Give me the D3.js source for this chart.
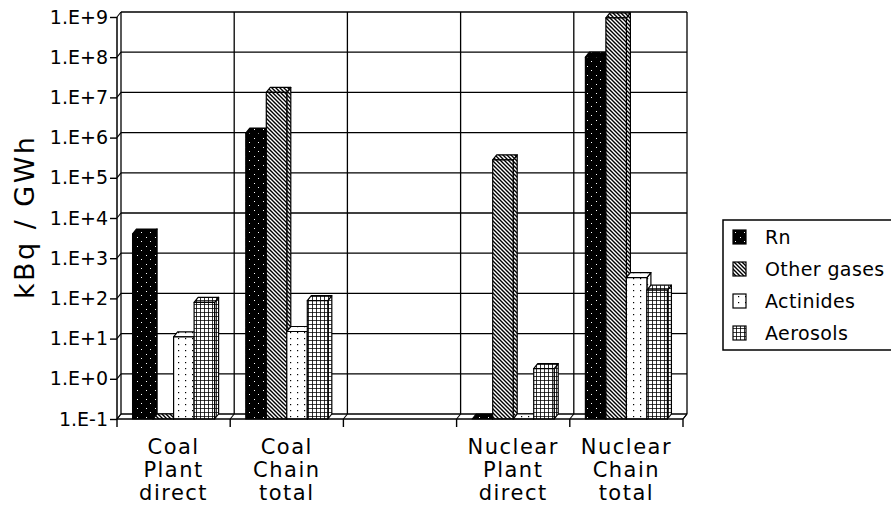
<!DOCTYPE html>
<html>
<head>
<meta charset="utf-8">
<script src="https://cdn.jsdelivr.net/npm/d3@7/dist/d3.min.js"></script>
<style>
  html, body { margin: 0; padding: 0; background: #fff; }
  svg { display: block; font-family: "DejaVu Sans", sans-serif; }
</style>
</head>
<body>
<svg id="chart" width="891" height="519"></svg>
<script>
// ---- data ----
const categories = ["Coal Plant direct", "Coal Chain total", "", "Nuclear Plant direct", "Nuclear Chain total"];
const seriesNames = ["Rn", "Other gases", "Actinides", "Aerosols"];
const rn         = [4.0e3, 1.3e6, null, 0.1, 1.0e8];
const otherGases = [0.1,   1.33e7, null, 2.8e5, 9.5e8];
const actinides  = [11,    15,    null, 0.1, 3.3e2];
const aerosols   = [80,    88,    null, 1.8, 1.6e2];
const yTickValues = [1e-1, 1e0, 1e1, 1e2, 1e3, 1e4, 1e5, 1e6, 1e7, 1e8, 1e9];
const yTickLabels = ["1.E-1", "1.E+0", "1.E+1", "1.E+2", "1.E+3", "1.E+4", "1.E+5", "1.E+6", "1.E+7", "1.E+8", "1.E+9"];
const yTitle = "kBq / GWh";

const seriesValues = [rn, otherGases, actinides, aerosols];
const patternIds = ["pRn", "pOg", "pAc", "pAe"];

// ---- layout ----
const svg = d3.select("#chart");
const D = 4;          // 3D depth offset (x right, y up)
const DY = 5;
const xLeft = 117, xRight = 683, yBottom = 419, yTop = 17;

const x = d3.scaleBand().domain(d3.range(categories.length)).range([xLeft, xRight]).paddingInner(0).paddingOuter(0);
const xs = d3.scaleBand().domain(seriesNames).range([0, x.bandwidth()]).paddingInner(0).paddingOuter(0.76);
const y = d3.scaleLog().domain([1e-1, 1e9]).range([yBottom, yTop]);

// ---- patterns ----
const defs = svg.append("defs");
{
  const p = defs.append("pattern").attr("id", "pRn").attr("patternUnits", "userSpaceOnUse").attr("width", 9).attr("height", 9);
  p.append("rect").attr("width", 9).attr("height", 9).attr("fill", "#000");
  p.append("rect").attr("x", 2).attr("y", 3).attr("width", 1).attr("height", 1).attr("fill", "#fff");
  p.append("rect").attr("x", 6).attr("y", 7).attr("width", 1).attr("height", 1).attr("fill", "#fff");
}
{
  const p = defs.append("pattern").attr("id", "pOg").attr("patternUnits", "userSpaceOnUse").attr("width", 4).attr("height", 4);
  p.append("rect").attr("width", 4).attr("height", 4).attr("fill", "#fff");
  p.append("path").attr("d", "M-1,-1 L5,5 M-1,3 L1,5 M3,-1 L5,1").attr("stroke", "#000").attr("stroke-width", 1.4);
}
{
  const p = defs.append("pattern").attr("id", "pAc").attr("patternUnits", "userSpaceOnUse").attr("width", 7).attr("height", 6);
  p.append("rect").attr("width", 7).attr("height", 6).attr("fill", "#fff");
  p.append("rect").attr("x", 3).attr("y", 2).attr("width", 1.2).attr("height", 1.2).attr("fill", "#000");
}
{
  const p = defs.append("pattern").attr("id", "pAe").attr("patternUnits", "userSpaceOnUse").attr("width", 4).attr("height", 4);
  p.append("rect").attr("width", 4).attr("height", 4).attr("fill", "#fff");
  p.append("path").attr("d", "M0,0 H4 M0,0 V4").attr("stroke", "#000").attr("stroke-width", 1.6);
}

// ---- back wall and gridlines ----
const g = svg.append("g");
const stroke = "#000";
yTickValues.forEach(v => {
  const yf = y(v);
  g.append("line").attr("x1", xLeft + D).attr("x2", xRight + D).attr("y1", yf - DY).attr("y2", yf - DY)
    .attr("stroke", stroke).attr("stroke-width", 1.3);
  g.append("line").attr("x1", xLeft).attr("x2", xLeft + D).attr("y1", yf).attr("y2", yf - DY)
    .attr("stroke", stroke).attr("stroke-width", 1.1);
});
const bounds = d3.range(categories.length + 1).map(i => i < categories.length ? x(i) : x(i - 1) + x.bandwidth());
bounds.forEach(bx => {
  g.append("line").attr("x1", bx + D).attr("x2", bx + D).attr("y1", y(1e9) - DY).attr("y2", yBottom - DY)
    .attr("stroke", stroke).attr("stroke-width", 1.3);
  g.append("line").attr("x1", bx).attr("x2", bx + D).attr("y1", yBottom).attr("y2", yBottom - DY)
    .attr("stroke", stroke).attr("stroke-width", 1.1);
});

// ---- bars ----
const bars = svg.append("g");
categories.forEach((c, ci) => {
  seriesNames.forEach((s, si) => {
    const v = seriesValues[si][ci];
    if (v == null) return;
    const x0 = x(ci) + xs(s);
    const w = xs.bandwidth();
    const yt = y(v);
    const fill = `url(#${patternIds[si]})`;
    const bg = bars.append("g").attr("stroke", "#000").attr("stroke-width", 1.2).attr("stroke-linejoin", "round");
    bg.append("path").attr("fill", fill)
      .attr("d", `M${x0 + w},${yt} L${x0 + w + D},${yt - DY} L${x0 + w + D},${yBottom - DY} L${x0 + w},${yBottom} Z`);
    bg.append("path").attr("fill", fill)
      .attr("d", `M${x0},${yt} L${x0 + D},${yt - DY} L${x0 + w + D},${yt - DY} L${x0 + w},${yt} Z`);
    bg.append("rect").attr("x", x0).attr("y", yt).attr("width", w).attr("height", Math.max(0, yBottom - yt)).attr("fill", fill);
  });
});

// ---- front axes ----
const ax = svg.append("g").attr("stroke", "#000");
ax.append("line").attr("x1", xLeft).attr("x2", xLeft).attr("y1", y(1e9)).attr("y2", yBottom).attr("stroke-width", 1.5);
ax.append("line").attr("x1", xLeft).attr("x2", xRight).attr("y1", yBottom).attr("y2", yBottom).attr("stroke-width", 1.5);
ax.append("line").attr("x1", xRight).attr("x2", xRight + D).attr("y1", yBottom).attr("y2", yBottom - DY).attr("stroke-width", 1.2);

const yAxis = d3.axisLeft(y).tickValues(yTickValues).tickFormat((d, i) => yTickLabels[i]).tickSize(7).tickPadding(2);
const yAxisG = svg.append("g").attr("transform", `translate(${xLeft},0)`).call(yAxis);
yAxisG.select(".domain").remove();
yAxisG.selectAll(".tick line").attr("stroke", "#000").attr("stroke-width", 1.4);
yAxisG.selectAll(".tick text").attr("font-size", 19).attr("fill", "#000").attr("font-family", "DejaVu Sans");

bounds.forEach(bx => {
  ax.append("line").attr("x1", bx).attr("x2", bx).attr("y1", yBottom).attr("y2", yBottom + 8).attr("stroke-width", 1.4);
});

// category labels
const lab = svg.append("g").attr("font-size", 21).attr("text-anchor", "middle").attr("fill", "#000").style("letter-spacing", "1.5px");
categories.forEach((c, ci) => {
  if (!c) return;
  const lines = c.split(" ");
  const t = lab.append("text");
  lines.forEach((ln, li) => {
    t.append("tspan").attr("x", x(ci) + x.bandwidth() / 2).attr("y", 454 + li * 23).text(ln);
  });
});

// y title
svg.append("text").attr("transform", `translate(34,218) rotate(-90)`).attr("text-anchor", "middle")
  .attr("font-size", 27).attr("fill", "#000").attr("textLength", 162).attr("lengthAdjust", "spacing").text(yTitle);

// ---- legend ----
const lg = svg.append("g");
const legTop = 220, legBottom = 350, legLeft = 723;
lg.append("path").attr("d", `M900,${legTop} H${legLeft} V${legBottom} H900`).attr("fill", "#fff").attr("stroke", "#000").attr("stroke-width", 1.5);
seriesNames.forEach((s, i) => {
  const cy = 237 + i * 32;
  lg.append("rect").attr("x", 733).attr("y", cy - 7).attr("width", 13).attr("height", 14)
    .attr("fill", `url(#${patternIds[i]})`).attr("stroke", "#000").attr("stroke-width", 1.2);
  lg.append("text").attr("x", 765).attr("y", cy).attr("dy", "0.36em").attr("font-size", 19)
    .style("letter-spacing", "0.4px").attr("fill", "#000").text(s);
});
</script>
</body>
</html>
